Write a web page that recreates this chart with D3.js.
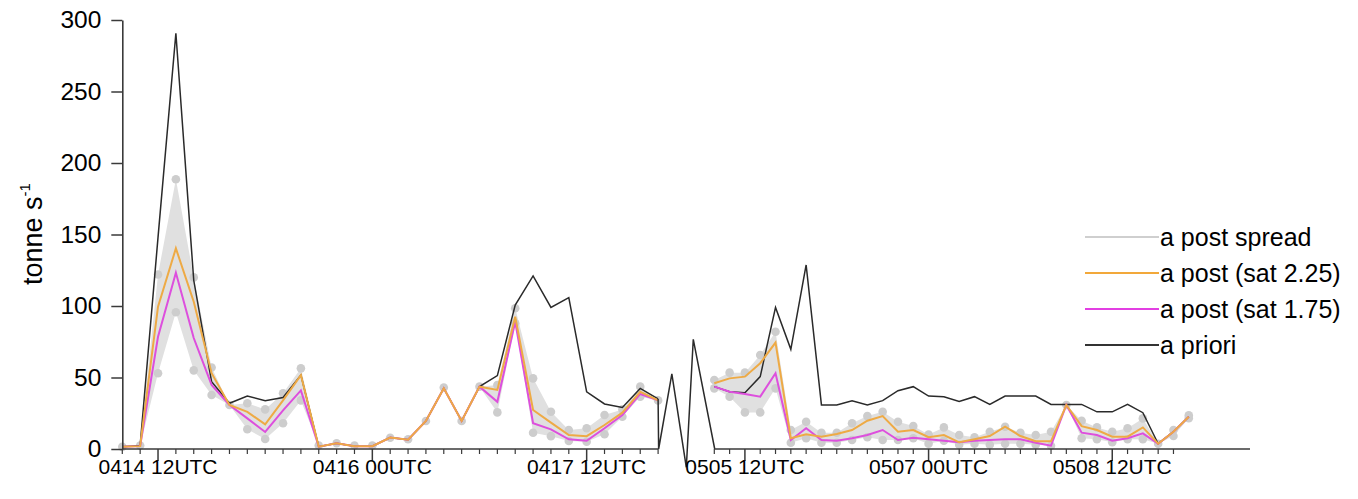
<!DOCTYPE html>
<html>
<head>
<meta charset="utf-8">
<script src="https://cdn.jsdelivr.net/npm/d3@7"></script>
<style>
  html, body { margin: 0; padding: 0; background: #fff; }
  svg { display: block; font-family: "Liberation Sans", Arial, Helvetica, sans-serif; }
</style>
</head>
<body>
<svg id="chart" width="1358" height="499"></svg>
<script>
// ---- Emission rate (tonne s-1), 3-hourly; first window 0414 06UTC - 0418 00UTC ----
const aprioriA   = [1.5, 2.5, 148, 290.7, 118, 47, 32, 37, 33.8, 36, 51.7, 1.6, 4, 2, 2, 8, 6.5, 19.6, 42.5, 19.6, 43.6, 51.3, 100.7, 121, 99, 105.8, 40, 31.5, 29, 42.4, 35];
const sat225A    = [1.5, 2, 99.5, 140.3, 103, 53, 30.8, 26, 17.2, 34, 51.7, 1.6, 4, 2, 2, 8, 6.5, 19.6, 42.5, 19.6, 43.6, 41.3, 92.5, 27.3, 18.4, 9.8, 9, 16.8, 25.4, 40, 34];
const sat175A    = [1.5, 2, 78.5, 123.3, 77.6, 44.8, 30.8, 21.4, 11.9, 27, 41, 1.6, 4, 2, 2, 8, 6.5, 19.6, 42.5, 19.6, 43.6, 33, 89, 18, 13.7, 6.8, 5.8, 14.5, 23.8, 38.5, 34];
const spreadMaxA = [1.5, 2.5, 122, 188.6, 120, 57, 30.8, 32, 27.7, 39, 56.4, 2.5, 4, 2.5, 2.5, 7.9, 6.8, 19.6, 43, 19.6, 43.6, 44.8, 98.4, 49.4, 26, 13.3, 14.5, 23.8, 27.7, 43.6, 34];
const spreadMinA = [1.5, 2.5, 53, 95.6, 55, 37.8, 30.8, 13.8, 7, 18, 34, 2.5, 4, 2.5, 2.5, 7.9, 6.8, 19.6, 43, 19.6, 43.6, 25.6, 87.9, 11.4, 9, 5.6, 5.1, 10.3, 22.6, 36.6, 34];

// ---- second window 0505 06UTC - 0509 03UTC ----
const aprioriB   = [43.6, 40, 39.4, 50.6, 99, 69.7, 128.7, 30.8, 30.8, 33.8, 30.8, 33.8, 40.8, 43.6, 37, 36.6, 33.2, 36.6, 31.2, 37, 37, 37, 31.2, 31.2, 31.2, 26, 26, 31.2, 25.4, 3.7, 12.1, 22.6];
const sat225B    = [46, 49.4, 50.6, 60, 74.4, 7.5, 10.3, 8.6, 10.5, 13.3, 19.8, 23, 12.1, 13.3, 8.2, 9.8, 4.7, 6.8, 9.1, 15.6, 9.1, 5.4, 5.4, 30.8, 16, 13.3, 8.6, 8.6, 15.1, 3.7, 12.1, 22.6];
const sat175B    = [43.6, 40, 38.5, 36.6, 53, 6.3, 14.5, 6.3, 5.8, 7.5, 9.8, 13.3, 6.3, 7.9, 6.8, 5.8, 4.7, 5.8, 6.3, 6.8, 6.8, 4.4, 2.3, 30.8, 11.4, 9.8, 5.8, 7.5, 10.9, 3.7, 12.1, 22.6];
const spreadMaxB = [48.3, 53.4, 53.4, 65.7, 82, 13.3, 19.1, 11.4, 11.4, 18, 23, 26, 19.1, 16, 10.1, 15.1, 9.8, 8.2, 12.1, 15.6, 11.4, 9.8, 12.1, 30.8, 19.8, 15.1, 12.1, 14.5, 21.4, 3.7, 13.3, 23.5];
const spreadMinB = [42.4, 36.6, 25.6, 25.6, 42.4, 4.4, 7.5, 4.4, 4.4, 6.3, 8.2, 6.3, 6.3, 7.5, 3.7, 5.8, 3, 3.7, 3, 3.7, 3.7, 3, 2.3, 30.8, 7.5, 6.8, 4.7, 6.8, 6.8, 3.7, 9.1, 21.5];

// a priori trace crossing the break between the two windows (first-window slot units)
const bridgeSlot = [30, 30.03, 30.77, 31.58, 31.97, 33.17];
const bridgeVal  = [35, 0, 52.5, -12.8, 76.7, 0];

// axis ticks and labels
const yTicks     = [0, 50, 100, 150, 200, 250, 300];
const majorSlots = [2, 14, 26];
const labelsA    = ["0414 12UTC", "0416 00UTC", "0417 12UTC"];
const labelsB    = ["0505 12UTC", "0507 00UTC", "0508 12UTC"];
const nSlotsA = 30, nSlotsB = 35, nTicksB = 30;

// legend
const legendNames  = ["a post spread", "a post (sat 2.25)", "a post (sat 1.75)", "a priori"];
const legendColors = ["#cfcfcf", "#f2a83a", "#e23fe2", "#333333"];

const COL = { spreadFill: "#e0e0e0", dot: "#cdcdcd", apriori: "#2a2a2a", sat225: "#eeaa45", sat175: "#dd4fdd", axis: "#3a3a3a" };

const svg = d3.select("#chart");

const y  = d3.scaleLinear().domain([0, 300]).range([449, 20]);
const xA = d3.scaleLinear().domain([0, nSlotsA]).range([122.3, 658.1]);
const xB = d3.scaleLinear().domain([0, nSlotsB]).range([714.3, 1250]);

function drawWindow(x, apr, s225, s175, smax, smin) {
  const g = svg.append("g");
  const idx = apr.map((_, i) => i);

  // ensemble spread band
  const area = d3.area().x(i => x(i)).y0(i => y(smin[i])).y1(i => y(smax[i]));
  g.append("path").datum(idx).attr("d", area).attr("fill", COL.spreadFill);

  // ensemble extremes
  const dots = [];
  idx.forEach(i => {
    dots.push([i, smax[i]]);
    if (smin[i] !== smax[i]) dots.push([i, smin[i]]);
  });
  g.selectAll("circle.m").data(dots).join("circle")
    .attr("cx", d => x(d[0])).attr("cy", d => y(d[1])).attr("r", 4.3)
    .attr("fill", COL.dot);

  const line = vals => d3.line().x((_, i) => x(i)).y(v => y(v))(vals);
  g.append("path").attr("d", line(apr)).attr("fill", "none").attr("stroke", COL.apriori).attr("stroke-width", 1.5);
  g.append("path").attr("d", line(s175)).attr("fill", "none").attr("stroke", COL.sat175).attr("stroke-width", 2);
  g.append("path").attr("d", line(s225)).attr("fill", "none").attr("stroke", COL.sat225).attr("stroke-width", 2);
}

drawWindow(xA, aprioriA, sat225A, sat175A, spreadMaxA, spreadMinA);
drawWindow(xB, aprioriB, sat225B, sat175B, spreadMaxB, spreadMinB);

// a priori across the break
svg.append("path")
  .attr("d", d3.line().x(d => xA(d[0])).y(d => y(d[1]))(bridgeSlot.map((s, i) => [s, bridgeVal[i]])))
  .attr("fill", "none").attr("stroke", COL.apriori).attr("stroke-width", 1.5);

// ---- axes ----
function xAxis(x, nSlots, nTicks, labels) {
  const g = svg.append("g").attr("transform", "translate(0,449)");
  g.append("line").attr("x1", x(0)).attr("x2", x(nSlots)).attr("stroke", COL.axis).attr("stroke-width", 1.6);
  const minor = d3.range(0, nTicks + 1).filter(s => !majorSlots.includes(s));
  g.selectAll("line.mn").data(minor).join("line")
    .attr("x1", s => x(s)).attr("x2", s => x(s)).attr("y1", 0).attr("y2", 5)
    .attr("stroke", COL.axis).attr("stroke-width", 1.2);
  g.selectAll("line.mj").data(majorSlots).join("line")
    .attr("x1", s => x(s)).attr("x2", s => x(s)).attr("y1", 0).attr("y2", 12)
    .attr("stroke", COL.axis).attr("stroke-width", 1.5);
  g.selectAll("text").data(majorSlots).join("text")
    .attr("x", s => x(s)).attr("y", 25).attr("text-anchor", "middle")
    .attr("font-size", 21).attr("fill", "#000")
    .text((s, i) => labels[i]);
}
xAxis(xA, nSlotsA, nSlotsA, labelsA);
xAxis(xB, nSlotsB, nTicksB, labelsB);

const yAxis = d3.axisLeft(y).tickValues(yTicks).tickSize(11).tickPadding(10).tickSizeOuter(0);
const gy = svg.append("g").attr("transform", `translate(${xA(0)},0)`).call(yAxis);
gy.select(".domain").attr("stroke", COL.axis).attr("stroke-width", 1.6);
gy.selectAll(".tick line").attr("stroke", COL.axis).attr("stroke-width", 1.5);
gy.selectAll(".tick text").attr("font-size", 24.5).attr("fill", "#000")
  .attr("font-family", "'Liberation Sans', Arial, sans-serif");

// y axis title
const yt = svg.append("text")
  .attr("transform", "translate(42,234) rotate(-90)")
  .attr("text-anchor", "middle").attr("font-size", 27).attr("fill", "#000");
yt.append("tspan").text("tonne s");
yt.append("tspan").attr("dy", -12).attr("font-size", 15).text("-1");

// ---- legend ----
const lg = svg.append("g");
const rowY = [237, 273, 309, 345];
legendNames.forEach((name, i) => {
  lg.append("line").attr("x1", 1085).attr("x2", 1159).attr("y1", rowY[i]).attr("y2", rowY[i])
    .attr("stroke", legendColors[i]).attr("stroke-width", 2);
  lg.append("text").attr("x", 1160).attr("y", rowY[i] + 8.5).attr("font-size", 25).attr("fill", "#000").text(name);
});
</script>
</body>
</html>
